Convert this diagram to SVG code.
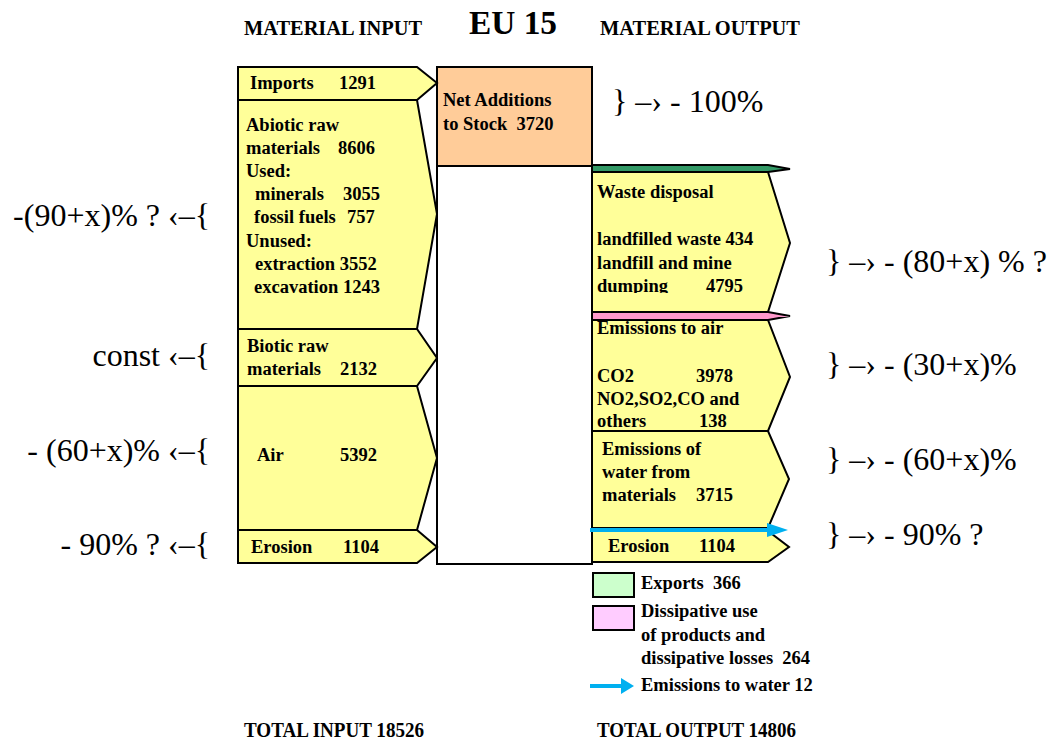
<svg xmlns="http://www.w3.org/2000/svg" width="1056" height="740" viewBox="0 0 1056 740">
<style>
text{white-space:pre}
.box{fill:#ffff99;stroke:#000;stroke-width:2;stroke-linejoin:miter}
.t{font-family:"Liberation Serif","Times New Roman",serif;font-weight:bold;font-size:18.5px;fill:#000}
.h{font-family:"Liberation Serif","Times New Roman",serif;font-weight:bold;font-size:20px;fill:#000}
.a{font-family:"Liberation Serif","Times New Roman","DejaVu Serif",serif;font-weight:normal;font-size:32px;fill:#000}
</style>
<defs>
<clipPath id="wclip"><rect x="592" y="172" width="200" height="121"/></clipPath>
</defs>
<rect width="1056" height="740" fill="#fff"/>
<g id="headers">
<text class="h" x="244" y="35" textLength="178" lengthAdjust="spacingAndGlyphs">MATERIAL INPUT</text>
<text class="h" x="469" y="34" style="font-size:33px" textLength="88" lengthAdjust="spacingAndGlyphs">EU 15</text>
<text class="h" x="600" y="35" textLength="200" lengthAdjust="spacingAndGlyphs">MATERIAL OUTPUT</text>
<text class="h" x="244" y="737" textLength="180" lengthAdjust="spacingAndGlyphs">TOTAL INPUT 18526</text>
<text class="h" x="597" y="737" textLength="199" lengthAdjust="spacingAndGlyphs">TOTAL OUTPUT 14806</text>
</g>
<g id="stock-empty"><rect x="437" y="166" width="155" height="398" fill="#fff" stroke="#000" stroke-width="2"/></g>
<g id="net-additions">
<rect x="437" y="67" width="155" height="99" fill="#ffcc99" stroke="#000" stroke-width="2"/>
<text class="t" x="443" y="106">Net Additions</text>
<text class="t" x="443" y="130">to Stock  3720</text>
</g>
<g id="imports">
<polygon class="box" points="238,67 417,67 437,83 417,100 238,100"/>
<text class="t" x="250" y="89">Imports</text><text class="t" x="339" y="89">1291</text>
</g>
<g id="abiotic">
<polygon class="box" points="238,100 417,100 437,214 417,329 238,329"/>
<text class="t" x="246" y="131">Abiotic raw</text>
<text class="t" x="246" y="154">materials</text><text class="t" x="338" y="154">8606</text>
<text class="t" x="246" y="177">Used:</text>
<text class="t" x="255" y="200">minerals</text><text class="t" x="343" y="200">3055</text>
<text class="t" x="254" y="223">fossil fuels</text><text class="t" x="347" y="223">757</text>
<text class="t" x="246" y="247">Unused:</text>
<text class="t" x="255" y="270">extraction 3552</text>
<text class="t" x="254" y="293">excavation 1243</text>
</g>
<g id="biotic">
<polygon class="box" points="238,329 417,329 437,358 417,386 238,386"/>
<text class="t" x="247" y="352">Biotic raw</text>
<text class="t" x="247" y="375">materials</text><text class="t" x="340" y="375">2132</text>
</g>
<g id="air">
<polygon class="box" points="238,386 417,386 437,458 417,530 238,530"/>
<text class="t" x="257" y="461">Air</text><text class="t" x="340" y="461">5392</text>
</g>
<g id="erosion-in">
<polygon class="box" points="238,530 417,530 437,547 417,563 238,563"/>
<text class="t" x="251" y="553">Erosion</text><text class="t" x="343" y="553">1104</text>
</g>
<g id="waste-disposal">
<polygon class="box" points="592,172 768,172 790,243 768,312 592,312"/>
<g clip-path="url(#wclip)">
<text class="t" x="597" y="198">Waste disposal</text>
<text class="t" x="597" y="245">landfilled waste 434</text>
<text class="t" x="597" y="269">landfill and mine</text>
<text class="t" x="597" y="292">dumping</text><text class="t" x="706" y="292">4795</text>
</g>
</g>
<g id="exports-strip"><polygon points="592,165 768,165 790,169 768,172 592,172" fill="#339966" stroke="#000" stroke-width="2"/></g>
<g id="emissions-air">
<polygon class="box" points="592,320 768,320 790,377 768,431 592,431"/>
<text class="t" x="597" y="334">Emissions to air</text>
<text class="t" x="597" y="382">CO2</text><text class="t" x="696" y="382">3978</text>
<text class="t" x="597" y="405">NO2,SO2,CO and</text>
<text class="t" x="597" y="427">others</text><text class="t" x="699" y="427">138</text>
</g>
<g id="dissipative-strip"><polygon points="592,312 768,312 790,316 768,320 592,320" fill="#ff99cc" stroke="#000" stroke-width="2"/></g>
<g id="emissions-water">
<polygon class="box" points="592,431 768,431 789,479 768,528 592,528"/>
<text class="t" x="602" y="455">Emissions of</text>
<text class="t" x="602" y="478">water from</text>
<text class="t" x="602" y="501">materials</text><text class="t" x="696" y="501">3715</text>
</g>
<g id="erosion-out">
<polygon class="box" points="592,531 768,531 789,547 768,562 592,562"/>
<text class="t" x="608" y="552">Erosion</text><text class="t" x="699" y="552">1104</text>
</g>
<g id="connectors">
<line x1="590" y1="530" x2="770" y2="530" stroke="#00b0f0" stroke-width="4"/>
<polygon points="767,523 788,530 767,537" fill="#00b0f0"/>
</g>
<g id="legend">
<rect x="593" y="573" width="41" height="24" fill="#ccffcc" stroke="#000" stroke-width="2"/>
<text class="t" x="641" y="589">Exports  366</text>
<rect x="593" y="606" width="41" height="24" fill="#ffccff" stroke="#000" stroke-width="2"/>
<text class="t" x="641" y="617">Dissipative use</text>
<text class="t" x="641" y="641">of products and</text>
<text class="t" x="641" y="664">dissipative losses  264</text>
<line x1="590" y1="686" x2="624" y2="686" stroke="#00b0f0" stroke-width="4"/>
<polygon points="621,678 634,686 621,694" fill="#00b0f0"/>
<text class="t" x="641" y="691">Emissions to water 12</text>
</g>
<g id="annotations">
<text class="a" x="210" y="226" text-anchor="end">-(90+x)% ? ‹–{</text>
<text class="a" x="210" y="366" text-anchor="end">const ‹–{</text>
<text class="a" x="210" y="461" text-anchor="end">- (60+x)% ‹–{</text>
<text class="a" x="210" y="555" text-anchor="end">- 90% ? ‹–{</text>
<text class="a" x="612" y="112">} –› - 100%</text>
<text class="a" x="826" y="272">} –› - (80+x) % ?</text>
<text class="a" x="826" y="375">} –› - (30+x)%</text>
<text class="a" x="826" y="470">} –› - (60+x)%</text>
<text class="a" x="826" y="545">} –› - 90% ?</text>
</g>
</svg>
